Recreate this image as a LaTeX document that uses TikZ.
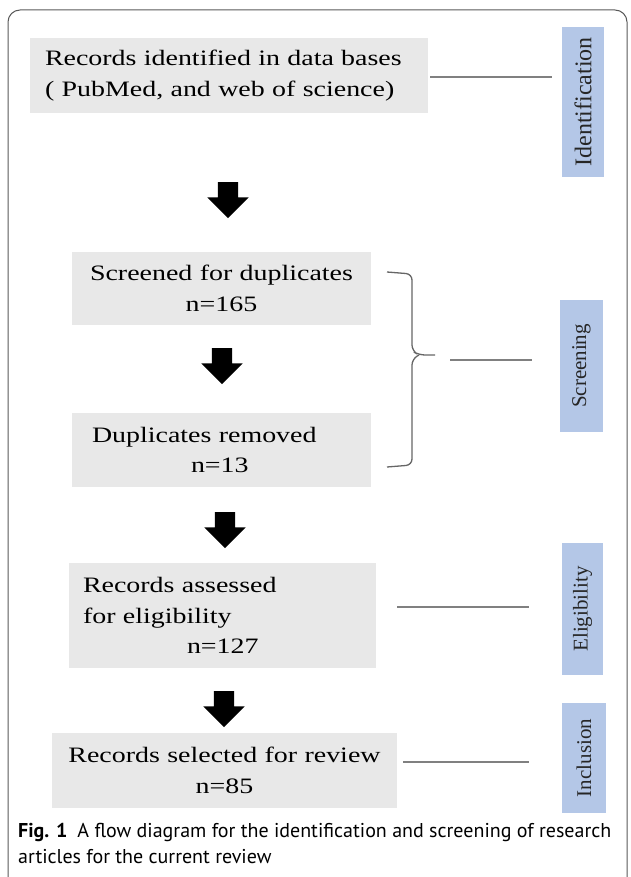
\documentclass[tikz,border=0pt]{standalone}
\usepackage{fontspec}
\setmainfont{Liberation Serif}
\newfontfamily\widefont[FakeStretch=1.27]{Liberation Serif}
\newfontfamily\capfont{PT Sans}
\usetikzlibrary{shapes.arrows}

\definecolor{boxgray}{HTML}{E8E8E8}
\definecolor{stageblue}{HTML}{B4C7E7}
\definecolor{linkgray}{HTML}{808080}

\tikzstyle{pr-block}=[fill=boxgray,inner sep=0pt,font=\widefont\fontsize{22}{30.5}\selectfont]
\tikzstyle{pr-stage}=[fill=stageblue,inner sep=0pt,rotate=90,text=black!85,font=\fontsize{21}{25}\selectfont]
\tikzstyle{pr-arrow}=[single arrow,fill=black,inner sep=10pt,shape border rotate=270,
  minimum height=36pt,single arrow head extend=10.5pt,single arrow head indent=0pt]
\tikzstyle{pr-link}=[draw=linkgray,line width=1.5pt]
\tikzstyle{pr-brace}=[draw=black!60,line width=1.3pt,rounded corners=6pt]

\begin{document}
\begin{tikzpicture}[x=1pt,y=-1pt]
    \useasboundingbox (0,0) rectangle (630,877);
    \draw[black!65,line width=1pt,rounded corners=12pt] (8,10) rectangle (627,890);

    \node[pr-block,text width=368pt,inner xsep=15pt,minimum height=75pt,align=left] (ident) at (229,75.5)
      {Records identified in data bases\\( PubMed, and web of science)};
    \node[pr-block,text width=299pt,minimum height=73pt,align=center] (scr) at (221.5,288.5)
      {Screened for duplicates\\n=165};
    \node[pr-block,text width=259pt,inner xsep=20pt,minimum height=74pt,align=left] (dup) at (221.5,450)
      {Duplicates removed\\\hspace*{99pt}n=13};
    \node[pr-block,text width=279pt,inner xsep=14pt,minimum height=105pt,align=left] (elig) at (222.5,615.5)
      {Records assessed\\for eligibility\\\hspace*{104pt}n=127};
    \node[pr-block,text width=345pt,minimum height=75pt,align=center] (incl) at (224.5,770.5)
      {Records selected for review\\n=85};

    \node[pr-stage,minimum width=150pt,minimum height=42pt,font=\fontsize{24}{28}\selectfont] (s-ident) at (583,102) {Identification};
    \node[pr-stage,minimum width=132pt,minimum height=43pt] (s-scr)   at (581.5,366) {Screening};
    \node[pr-stage,minimum width=132pt,minimum height=41pt] (s-elig)  at (582.5,609) {Eligibility};
    \node[pr-stage,minimum width=110pt,minimum height=44pt] (s-incl)  at (584,758) {Inclusion};

    \node[pr-arrow] (a1) at (228,195) {};
    \node[pr-arrow] (a2) at (222,361) {};
    \node[pr-arrow] (a3) at (225,525) {};
    \node[pr-arrow] (a4) at (224,704) {};

    \coordinate (br-top) at (387,272);
    \coordinate (br-bot) at (387,467);
    \coordinate (br-tip) at (435,355);
    \coordinate (scr-out) at (435,360);
    \coordinate (ident-out) at ([yshift=-1.5pt]ident.east);
    \coordinate (elig-out) at ([yshift=8.5pt]elig.east);
    \coordinate (incl-out) at ([yshift=8.5pt]incl.east);
    \draw[pr-brace] (br-top) -- (412,274) -- (412,351) -- (419,355) -- (br-tip);
    \draw[pr-brace] (br-bot) -- (412,465) -- (412,359) -- (419,355);

    \draw[pr-link,shorten <=2pt,shorten >=10pt] (ident-out) -- (s-ident.north |- ident-out);
    \draw[pr-link,shorten <=15pt,shorten >=28pt] (scr-out) -- (s-scr.north |- scr-out);
    \draw[pr-link,shorten <=21pt,shorten >=33pt] (elig-out) -- (s-elig.north |- elig-out);
    \draw[pr-link,shorten <=6pt,shorten >=33pt] (incl-out) -- (s-incl.north |- incl-out);

    \node[anchor=north west,inner sep=0pt,align=left,font=\capfont\fontsize{20}{26}\selectfont] (cap) at (18,823)
      {\textbf{Fig. 1}\enskip A flow diagram for the identification and screening of research\\articles for the current review};
\end{tikzpicture}
\end{document}
